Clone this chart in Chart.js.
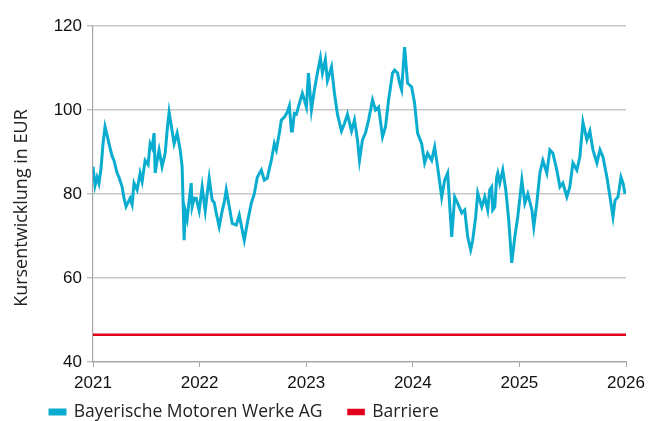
<!DOCTYPE html>
<html>
<head>
<meta charset="utf-8">
<script src="https://cdn.jsdelivr.net/npm/chart.js@4/dist/chart.umd.min.js"></script>
<style>
  html, body { margin: 0; padding: 0; background: #fff; }
</style>
</head>
<body>
<canvas id="chart" width="658" height="421"></canvas>
<script>
// time axis in decimal years
const years = [
  2021.000, 2021.019, 2021.038, 2021.056, 2021.075, 2021.094, 2021.113, 2021.132, 2021.150, 2021.179,
  2021.197, 2021.226, 2021.244, 2021.273, 2021.291, 2021.310, 2021.348, 2021.367, 2021.385, 2021.414,
  2021.442, 2021.461, 2021.489, 2021.517, 2021.536, 2021.555, 2021.573, 2021.583, 2021.602, 2021.620,
  2021.648, 2021.677, 2021.695, 2021.714, 2021.742, 2021.761, 2021.789, 2021.818, 2021.836, 2021.855,
  2021.865, 2021.883, 2021.902, 2021.921, 2021.930, 2021.949, 2021.968, 2021.996, 2022.024, 2022.053,
  2022.071, 2022.090, 2022.118, 2022.137, 2022.156, 2022.184, 2022.212, 2022.231, 2022.250, 2022.278,
  2022.306, 2022.344, 2022.372, 2022.400, 2022.419, 2022.447, 2022.485, 2022.513, 2022.541, 2022.579,
  2022.607, 2022.635, 2022.654, 2022.673, 2022.701, 2022.720, 2022.748, 2022.767, 2022.795, 2022.823,
  2022.842, 2022.861, 2022.870, 2022.889, 2022.908, 2022.936, 2022.964, 2023.002, 2023.021, 2023.049,
  2023.077, 2023.105, 2023.133, 2023.152, 2023.180, 2023.199, 2023.237, 2023.265, 2023.293, 2023.331,
  2023.359, 2023.387, 2023.425, 2023.453, 2023.481, 2023.500, 2023.528, 2023.556, 2023.585, 2023.622,
  2023.650, 2023.679, 2023.716, 2023.744, 2023.773, 2023.810, 2023.829, 2023.857, 2023.876, 2023.895,
  2023.923, 2023.951, 2023.989, 2024.017, 2024.045, 2024.083, 2024.111, 2024.139, 2024.177, 2024.205,
  2024.233, 2024.271, 2024.299, 2024.327, 2024.365, 2024.393, 2024.421, 2024.459, 2024.487, 2024.515,
  2024.543, 2024.562, 2024.590, 2024.609, 2024.647, 2024.675, 2024.703, 2024.722, 2024.740, 2024.750,
  2024.769, 2024.787, 2024.797, 2024.816, 2024.844, 2024.872, 2024.900, 2024.928, 2024.957, 2024.985,
  2025.023, 2025.051, 2025.079, 2025.117, 2025.135, 2025.163, 2025.192, 2025.220, 2025.257, 2025.286,
  2025.314, 2025.351, 2025.380, 2025.408, 2025.445, 2025.473, 2025.502, 2025.539, 2025.567, 2025.596,
  2025.633, 2025.661, 2025.690, 2025.727, 2025.756, 2025.784, 2025.821, 2025.850, 2025.878, 2025.897,
  2025.925, 2025.953, 2025.972, 2025.991
];
const prices = [
  86.5, 82.0, 84.0, 82.5, 86.0, 92.0, 96.0, 94.0, 92.0, 89.0,
  88.0, 85.0, 84.0, 81.7, 79.0, 77.0, 79.0, 77.5, 82.6, 81.0,
  85.0, 83.0, 88.0, 87.0, 92.0, 91.0, 94.5, 85.0, 88.0, 90.5,
  86.5, 89.7, 95.0, 99.5, 95.0, 92.0, 94.5, 90.5, 86.5, 69.0,
  76.0, 74.0, 78.5, 82.6, 77.0, 79.0, 79.0, 76.0, 81.7, 76.0,
  80.0, 83.8, 78.5, 78.0, 75.5, 72.2, 76.0, 78.0, 81.0, 77.0,
  73.0, 72.6, 75.0, 71.4, 69.0, 73.0, 77.8, 80.0, 84.0, 85.7,
  83.3, 83.8, 86.0, 88.0, 92.0, 90.5, 94.5, 97.6, 98.3, 99.5,
  101.0, 95.0, 95.0, 99.2, 99.0, 101.6, 104.0, 100.7, 108.8, 100.0,
  104.8, 108.8, 112.4, 108.8, 112.0, 107.0, 110.3, 104.0, 99.0, 95.0,
  96.8, 99.0, 95.0, 97.6, 92.9, 88.0, 92.9, 94.5, 97.6, 102.4,
  100.0, 100.7, 93.6, 96.0, 102.4, 108.8, 109.5, 108.8, 106.4, 104.8,
  115.0, 106.4, 105.5, 101.6, 94.5, 92.0, 87.4, 89.7, 88.0, 91.2,
  86.4, 79.3, 83.3, 85.0, 69.8, 79.3, 77.8, 75.5, 76.2, 69.8,
  66.7, 69.0, 74.6, 80.2, 76.9, 79.3, 76.2, 81.0, 81.7, 76.2,
  76.9, 84.0, 85.0, 82.6, 85.7, 81.0, 73.8, 63.6, 69.8, 74.6,
  83.3, 77.8, 80.0, 76.2, 72.2, 77.8, 85.0, 88.0, 85.0, 90.5,
  89.7, 85.7, 81.7, 82.6, 79.3, 81.7, 87.4, 85.7, 88.8, 97.1,
  92.9, 95.0, 90.5, 87.4, 90.5, 88.8, 84.0, 79.3, 74.6, 78.5,
  79.3, 84.0, 82.6, 80.0
];
const barrierYears = [2021, 2026];
const barrierLevel = [46.5, 46.5];
const seriesNames = ['Bayerische Motoren Werke AG', 'Barriere'];
const xRange = [2021, 2026];
const yRange = [40, 120];
const yStep = 20;

const tickFont = { family: "'Liberation Sans', Arial, sans-serif", size: 17 };
const legendFont = { family: "'Open Sans', 'Liberation Sans', sans-serif", size: 17.5 };
const titleFont = { family: "'Open Sans', 'Liberation Sans', sans-serif", size: 18 };
const legendPad = 26;

// the legend box is kept short so the plot keeps its height,
// then moved to where the original has it
const legendPlace = {
    id: 'legendPlace',
    beforeLayout(chart) {
        const lg = chart.legend;
        if (lg && !lg._shortFit) {
            const fit = lg.fit;
            lg.fit = function () {
                fit.call(this);
                this.height = 29;
            };
            lg._shortFit = true;
        }
    },
    afterLayout(chart) {
        const lg = chart.legend;
        lg.left = 50 - legendPad;
        lg.top = 412 - legendPad - legendFont.size / 2;
        lg.bottom = chart.height;
        lg.height = lg.bottom - lg.top;
    }
};

const ctx = document.getElementById('chart').getContext('2d');
const chart = new Chart(ctx, {
    type: 'line',
    data: {
        datasets: [{
            label: seriesNames[0],
            data: years.map((y, i) => ({ x: y, y: prices[i] })),
            borderColor: '#0aadcf',
            backgroundColor: '#0aadcf',
            borderWidth: 3,
            pointRadius: 0,
            tension: 0
        }, {
            label: seriesNames[1],
            data: barrierYears.map((y, i) => ({ x: y, y: barrierLevel[i] })),
            borderColor: '#e3001b',
            backgroundColor: '#e3001b',
            borderWidth: 2.6,
            pointRadius: 0
        }]
    },
    options: {
        responsive: false,
        animation: false,
        devicePixelRatio: 1,
        layout: { padding: { left: 0, right: 32, top: 26, bottom: 0 } },
        plugins: {
            tooltip: { enabled: false },
            legend: {
                position: 'bottom',
                align: 'start',
                labels: {
                    boxWidth: 15,
                    boxHeight: 4,
                    padding: legendPad,
                    color: '#222',
                    font: legendFont
                }
            }
        },
        scales: {
            x: {
                type: 'linear',
                min: xRange[0],
                max: xRange[1],
                afterFit: (scale) => { scale.height = 30; },
                ticks: {
                    stepSize: 1,
                    color: '#111',
                    font: tickFont,
                    padding: 6,
                    maxRotation: 0,
                    callback: (v) => String(v)
                },
                grid: {
                    drawOnChartArea: false,
                    drawTicks: true,
                    tickLength: 5,
                    color: '#a6a6a6'
                },
                border: { color: '#a6a6a6', width: 1.2 }
            },
            y: {
                min: yRange[0],
                max: yRange[1],
                afterFit: (scale) => { scale.width = 93; },
                ticks: {
                    stepSize: yStep,
                    color: '#111',
                    font: tickFont,
                    padding: 5
                },
                title: {
                    display: true,
                    // trailing spaces push the rotated label a little lower, as in the original
                    text: 'Kursentwicklung in EUR      ',
                    color: '#222',
                    font: titleFont,
                    padding: { top: 11, bottom: 0 }
                },
                grid: {
                    color: '#c8c8c8',
                    lineWidth: 1.6,
                    tickLength: 6,
                    tickColor: '#a6a6a6',
                    tickWidth: 1
                },
                border: { color: '#a6a6a6', width: 1.2 }
            }
        }
    },
    plugins: [legendPlace]
});
</script>
</body>
</html>
